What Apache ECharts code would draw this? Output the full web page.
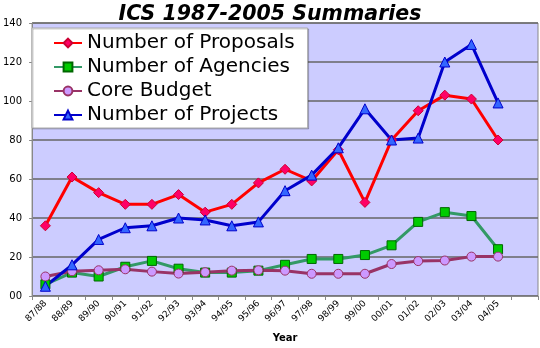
<!DOCTYPE html>
<html><head><meta charset="utf-8">
<script src="https://cdn.jsdelivr.net/npm/echarts@6/dist/echarts.min.js"></script>
<style>html,body{margin:0;padding:0;background:#fff}#c{width:540px;height:348px}</style>
</head><body><div id="c"></div>
<script>
var categories = ['87/88','88/89','89/90','90/91','91/92','92/93','93/94','94/95','95/96','96/97','97/98','98/99','99/00','00/01','01/02','02/03','03/04','04/05',''];
var proposals = [36,61,53,47,47,52,43,47,58,65,59,75,48,80,95,103,101,80];
var agencies  = [6,12,10,15,18,14,12,12,13,16,19,19,21,26,38,43,41,24];
var coreBudget = [10,12.7,13.2,13.7,12.5,11.5,12.2,13,13.2,13,11.4,11.4,11.4,16.4,17.9,18.2,20.2,20.2];
var projects  = [5,16,29,35,36,40,39,36,38,54,62,76,96,80,81,120,129,99];
var yTicks = [0,20,40,60,80,100,120,140];

var chart = echarts.init(document.getElementById('c'));
var font = 'DejaVu Sans';
function ser(name, data, lineColor, markColor, markBorder, symbol, size){
  return {name:name, type:'line', data:data, symbol:symbol, symbolSize:size,
    lineStyle:{color:lineColor, width:3}, itemStyle:{color:markColor, borderColor:markBorder, borderWidth:1},
    emphasis:{disabled:true}, animation:false};
}
chart.setOption({
  animation:false,
  textStyle:{fontFamily:font},
  title:{text:'ICS 1987-2005 Summaries', left:265, textAlign:'center', top:0,
    textStyle:{fontFamily:font, fontSize:20.5, fontWeight:'bold', fontStyle:'italic', color:'#000'}},
  legend:{orient:'vertical', left:32, top:28, padding:[5,13,3,21], itemGap:4,
    backgroundColor:'#fff', borderColor:'#aaa', borderWidth:1,
    shadowColor:'rgba(0,0,0,0.2)', shadowOffsetX:1, shadowOffsetY:1, shadowBlur:0,
    itemWidth:28, itemHeight:11,
    textStyle:{fontFamily:font, fontSize:20, color:'#000'},
    data:['Number of Proposals','Number of Agencies','Core Budget','Number of Projects']},
  grid:{left:22, right:2, top:23, bottom:46, show:true, backgroundColor:'#ccccff', borderColor:'#888', borderWidth:1},
  xAxis:{type:'category', data:categories, boundaryGap:true,
    name:'Year', nameLocation:'middle', nameGap:37,
    nameTextStyle:{fontFamily:font, fontSize:10, fontWeight:'bold', color:'#000'},
    axisLine:{lineStyle:{color:'#888', width:1}},
    axisTick:{show:true, inside:false, length:4, lineStyle:{color:'#888'}},
    axisLabel:{rotate:45, fontSize:9, color:'#000', interval:0, margin:6}},
  yAxis:{type:'value', min:0, max:140, interval:20,
    axisLine:{show:true, lineStyle:{color:'#888'}},
    axisTick:{show:true, length:3, lineStyle:{color:'#888'}},
    axisLabel:{fontSize:10, color:'#000', margin:10, formatter:function(v){return v===0?'00':String(v);}},
    splitLine:{lineStyle:{color:'#666', width:1.5}}},
  series:[
    ser('Number of Proposals', proposals, '#ff0000', '#ff0066', '#cc0033', 'diamond', 10),
    ser('Number of Agencies', agencies, '#339966', '#00cc00', '#006600', 'rect', 9),
    ser('Core Budget', coreBudget, '#993366', '#cc99ff', '#993366', 'circle', 9),
    ser('Number of Projects', projects, '#0000cc', '#3366ff', '#0000cc', 'triangle', 10)
  ]
});
</script></body></html>
